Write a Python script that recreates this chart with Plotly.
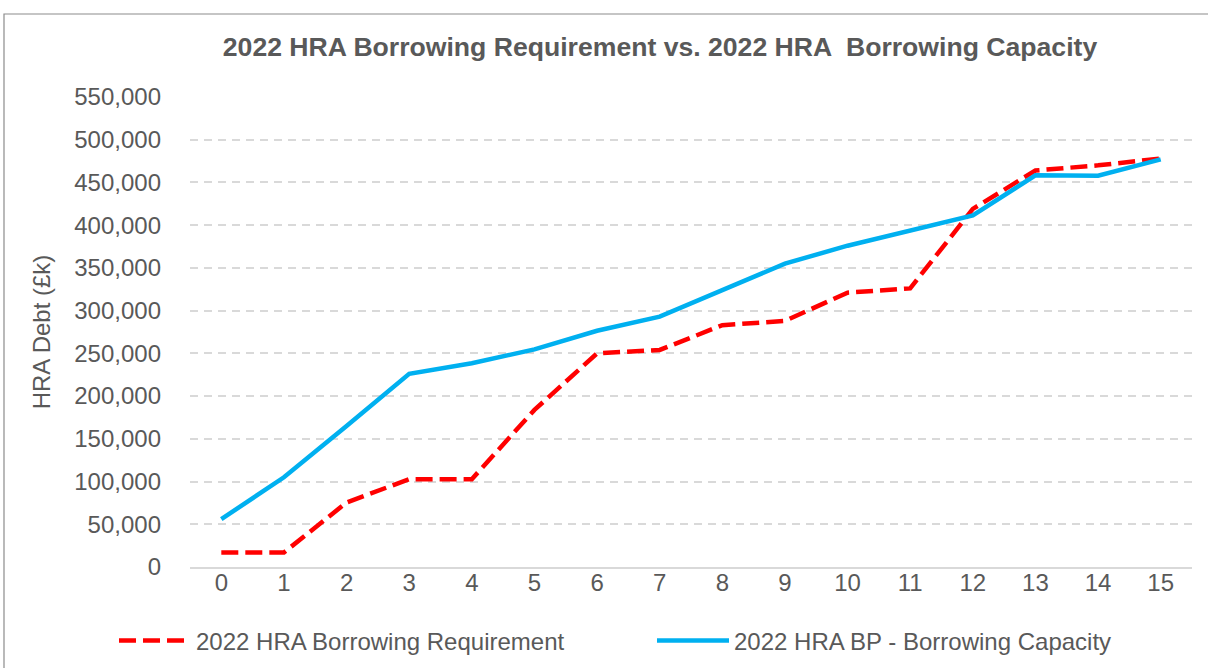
import plotly.graph_objects as go

years = [str(i) for i in range(16)]
requirement = [17000, 17000, 75500, 102800, 102800, 183800, 250000, 254000,
               283000, 288000, 321000, 326000, 419000, 464000, 470000, 478000]
capacity = [56000, 105000, 165000, 226000, 238500, 254700, 276500, 293000,
            324000, 355000, 376000, 394000, 411500, 458300, 457800, 477000]
y_ticks = list(range(0, 550001, 50000))

TXT = "#595959"
FONT = "Liberation Sans, Arial, sans-serif"

fig = go.Figure()
fig.add_trace(go.Scatter(
    x=years, y=requirement, mode="lines", name="2022 HRA Borrowing Requirement",
    line=dict(color="#FF0000", width=4.5, dash="17px,7px")))
fig.add_trace(go.Scatter(
    x=years, y=capacity, mode="lines", name="2022 HRA BP - Borrowing Capacity",
    line=dict(color="#00B0F0", width=4.5)))

W, H = 1208, 668
L, R, T, B = 190, 16, 97, 101
pw, ph = W - L - R, H - T - B

fig.update_layout(
    width=W, height=H,
    margin=dict(l=L, r=R, t=T, b=B, autoexpand=False),
    paper_bgcolor="white", plot_bgcolor="white",
    font=dict(family=FONT, size=24, color=TXT),
    title=dict(text="<b>2022 HRA Borrowing Requirement vs. 2022 HRA  Borrowing Capacity</b>",
               font=dict(family=FONT, size=26.6, color=TXT),
               x=660 / W, xanchor="center", xref="container",
               y=1 - 47 / H, yanchor="middle", yref="container"),
    showlegend=True,
    legend=dict(orientation="h", x=(114 - L) / pw, xanchor="left",
                y=-(641 - (T + ph)) / ph, yanchor="middle",
                font=dict(family=FONT, size=24, color=TXT),
                itemwidth=72,
                entrywidth=451, entrywidthmode="pixels",
                bgcolor="rgba(0,0,0,0)"),
    shapes=[dict(type="rect", xref="paper", yref="paper",
                 x0=(4 - L) / pw, x1=1.2, y0=-0.5, y1=(T + ph - 14) / ph,
                 line=dict(color="#8C8C8C", width=1.2), layer="below")],
)
fig.update_xaxes(type="category", range=[-0.5, 15.5], showgrid=False,
                 showline=True, linecolor="#D9D9D9", linewidth=1.5,
                 ticks="", ticklabelstandoff=-7,
                 tickfont=dict(size=24, color=TXT), fixedrange=True)
fig.update_yaxes(range=[0, 550000], tickvals=y_ticks, tickformat=",d",
                 showgrid=True, gridcolor="#D9D9D9", gridwidth=1.6, griddash="8px,6px",
                 zeroline=False, showline=False, ticks="",
                 ticklabelstandoff=28,
                 tickfont=dict(size=24, color=TXT),
                 title=dict(text="HRA Debt (£k)", font=dict(size=24, color=TXT), standoff=16),
                 fixedrange=True)

fig.write_html("out.html", config={"displayModeBar": False},
               post_script="document.body.style.margin='0';document.body.style.overflow='hidden';")
